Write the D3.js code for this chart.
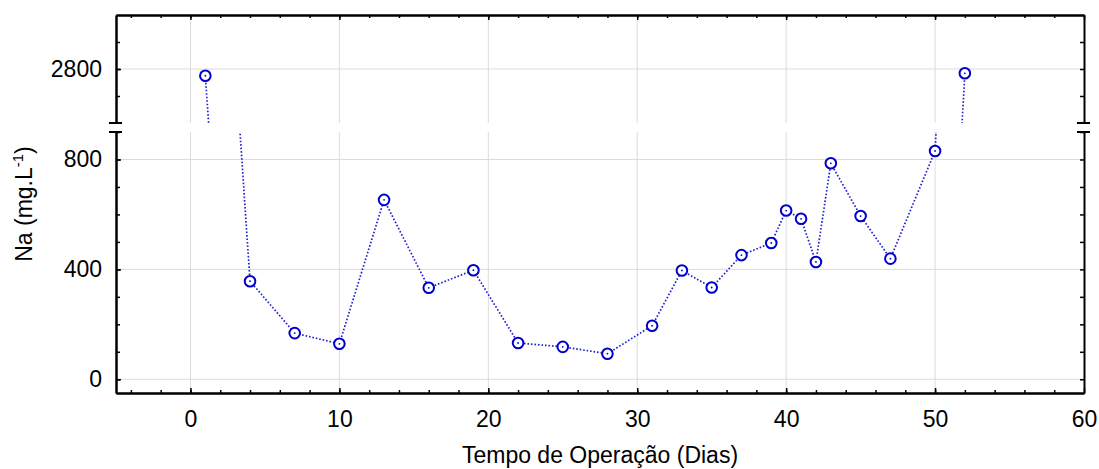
<!DOCTYPE html>
<html lang="pt">
<head>
<meta charset="UTF-8">
<title>Na x Tempo de Operação</title>
<script src="https://d3js.org/d3.v7.min.js"></script>
<style>
    body{ margin: 0; background: #fff; }
    svg{ display: block; }
    text{ font-family: Arial, "Liberation Sans", sans-serif; fill: #000; }
    .axis path{ stroke: #000; stroke-width: 2; }
    .axis line{ stroke: #000; stroke-width: 1.5; }
    .axis text{ font-size: 23px; font-family: Arial, "Liberation Sans", sans-serif; }
    .grid line{ stroke: #dcdcdc; stroke-width: 1; }
</style>
</head>
<body>
<svg id="chart" width="1099" height="469"></svg>
<script>
    // dias de operacao e Na (mg/L)
    const days = [1, 4, 7, 10, 13, 16, 19, 22, 25, 28, 31, 33, 35, 37, 39, 40, 41, 42, 43, 45, 47, 50, 52]
    const na = [2775, 357, 168, 129, 653, 333, 397, 132, 118, 93, 195, 396, 334, 452, 496, 614, 584, 427, 786, 594, 439, 831, 2784]
    const xTicks = [0, 10, 20, 30, 40, 50, 60]
    const xMinor = d3.range(-4, 60, 2)
    const yTicksLow = [0, 400, 800]
    const yMinorLow = d3.range(0, 901, 100)
    const yTicksHigh = [2800]
    const yMinorHigh = [2700, 2800, 2900]

    const data = days.map((d, i) => ({day: d, na: na[i]}))

    const svg = d3.select("#chart")
    const mLeft = 116, mRight = 1084, mTop = 15, mBottom = 393
    const breakTop = 123, breakBottom = 132

    const x = d3.scaleLinear().domain([-5, 60]).range([mLeft, mRight])
    const yHigh = d3.scaleLinear().domain([2600, 3000]).range([breakTop, mTop])
    const yLow = d3.scaleLinear().domain([-50, 900]).range([mBottom, breakBottom])

    const panels = [
        {id: "high", y: yHigh, y0: mTop, y1: breakTop, ticks: yTicksHigh, minor: yMinorHigh},
        {id: "low", y: yLow, y0: breakBottom, y1: mBottom, ticks: yTicksLow, minor: yMinorLow}
    ]

    const defs = svg.append("defs")

    panels.forEach(p => {
        defs.append("clipPath").attr("id", "clip-" + p.id)
            .append("rect")
            .attr("x", mLeft).attr("y", p.y0)
            .attr("width", mRight - mLeft).attr("height", p.y1 - p.y0)

        const g = svg.append("g").attr("clip-path", "url(#clip-" + p.id + ")")

        // grid
        const grid = g.append("g").attr("class", "grid")
        grid.selectAll(".vx").data(xTicks.filter(t => t < 60))
            .join("line")
            .attr("x1", d => x(d)).attr("x2", d => x(d))
            .attr("y1", p.y0).attr("y2", p.y1)
        grid.selectAll(".hy").data(p.ticks)
            .join("line")
            .attr("x1", mLeft).attr("x2", mRight)
            .attr("y1", d => p.y(d)).attr("y2", d => p.y(d))

        // series
        const line = d3.line().x(d => x(d.day)).y(d => p.y(d.na))
        g.append("path")
            .datum(data)
            .attr("d", line)
            .attr("fill", "none")
            .attr("stroke", "#2020d0")
            .attr("stroke-width", 1.7)
            .attr("stroke-dasharray", "1.6,1.9")

        const pts = g.selectAll(".pt").data(data).join("g")
            .attr("transform", d => "translate(" + x(d.day) + "," + p.y(d.na) + ")")
        pts.append("circle")
            .attr("r", 5.3)
            .attr("fill", "#fff")
            .attr("stroke", "#0000cc")
            .attr("stroke-width", 2)
        pts.append("circle")
            .attr("r", 0.9)
            .attr("fill", "#0000cc")

        // y axes
        svg.append("g").attr("class", "axis")
            .attr("transform", "translate(" + mLeft + ",0)")
            .call(d3.axisLeft(p.y).tickValues(p.ticks).tickFormat(d3.format("d"))
                .tickSizeInner(-5).tickSizeOuter(0).tickPadding(14))
        svg.append("g").attr("class", "axis")
            .attr("transform", "translate(" + mLeft + ",0)")
            .call(d3.axisLeft(p.y).tickValues(p.minor).tickSizeInner(-4).tickSizeOuter(0).tickFormat(""))
        svg.append("g").attr("class", "axis")
            .attr("transform", "translate(" + mRight + ",0)")
            .call(d3.axisRight(p.y).tickValues(p.minor).tickSizeInner(-4).tickSizeOuter(0).tickFormat(""))
    })

    // break marks
    const breaks = []
    ;[mLeft, mRight].forEach(ax => [breakTop, breakBottom].forEach(by => breaks.push({ax: ax, by: by})))
    svg.selectAll(".brk").data(breaks).join("line")
        .attr("x1", d => d.ax - 7).attr("x2", d => d.ax + 6)
        .attr("y1", d => d.by).attr("y2", d => d.by)
        .attr("stroke", "#000").attr("stroke-width", 2)

    // x axes
    svg.append("g").attr("class", "axis")
        .attr("transform", "translate(0," + mBottom + ")")
        .call(d3.axisBottom(x).tickValues(xTicks).tickSizeInner(-5).tickSizeOuter(0).tickPadding(18))
    svg.append("g").attr("class", "axis")
        .attr("transform", "translate(0," + mBottom + ")")
        .call(d3.axisBottom(x).tickValues(xMinor).tickSizeInner(-3).tickSizeOuter(0).tickFormat(""))
    svg.append("g").attr("class", "axis")
        .attr("transform", "translate(0," + mTop + ")")
        .call(d3.axisTop(x).tickValues(xTicks).tickSizeInner(-5).tickSizeOuter(0).tickFormat(""))
    svg.append("g").attr("class", "axis")
        .attr("transform", "translate(0," + mTop + ")")
        .call(d3.axisTop(x).tickValues(xMinor).tickSizeInner(-3).tickSizeOuter(0).tickFormat(""))

    // titles
    svg.append("text")
        .attr("x", (mLeft + mRight) / 2).attr("y", 463)
        .attr("text-anchor", "middle")
        .style("font-size", "23px")
        .text("Tempo de Operação (Dias)")

    const yt = svg.append("text")
        .attr("transform", "translate(32," + (mTop + mBottom) / 2 + ") rotate(-90)")
        .attr("text-anchor", "middle")
        .style("font-size", "23px")
    yt.append("tspan").text("Na (mg.L")
    yt.append("tspan").attr("dy", -9).style("font-size", "15px").text("-1")
    yt.append("tspan").attr("dy", 9).text(")")
</script>
</body>
</html>
